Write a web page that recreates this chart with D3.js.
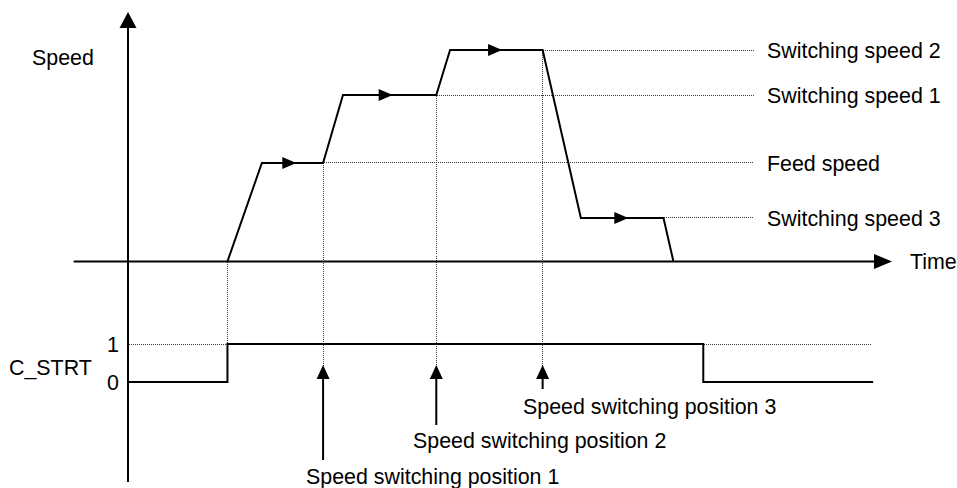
<!DOCTYPE html>
<html>
<head>
<meta charset="utf-8">
<script src="https://cdn.jsdelivr.net/npm/d3@7"></script>
<style>
  html, body { margin: 0; padding: 0; background: #fff; }
  svg { display: block; }
  text { font-family: "Liberation Sans", Arial, Helvetica, sans-serif; font-size: 21.4px; fill: #000; }
</style>
</head>
<body>
<svg id="chart" width="957" height="488"></svg>
<script>
// Speed profile (time units, % of switching speed 2)
const profileTime  = [13.0, 17.5, 25.5, 28.1, 40.3, 42.1, 54.2, 59.2, 70.0, 71.3];
const profileSpeed = [0,    46.6, 46.6, 78.7, 78.7, 100,  100,  20.6, 20.6, 0];

// Named speed levels shown at the right
const levelNames  = ["Switching speed 2", "Switching speed 1", "Feed speed", "Switching speed 3"];
const levelSpeeds = [100, 78.7, 46.6, 20.6];
const levelStarts = [54.2, 40.3, 25.5, 70.0];   // time where each reference line begins

// Direction arrows along the constant-speed segments (tip time, speed)
const flowTime  = [22.0, 34.6, 48.9, 65.4];
const flowSpeed = [46.6, 78.7, 100, 20.6];

// C_STRT signal
const strtTime  = [0, 13.0, 13.0, 75.2, 75.2, 97.4];
const strtLevel = [0, 0,    1,    1,    0,    0];
const strtTicks = ["0", "1"];

// Speed switching positions
const switchNames = ["Speed switching position 1", "Speed switching position 2", "Speed switching position 3"];
const switchTimes = [25.5, 40.3, 54.2];
const switchFrom  = [46.6, 78.7, 100];

const svg = d3.select("#chart");

const x = d3.scaleLinear().domain([0, 100]).range([128, 893]);
const ySpeed = d3.scaleLinear().domain([0, 100]).range([261.5, 50]);
const ySig = d3.scaleLinear().domain([0, 1]).range([382, 344]);

const refEnd = 81.7;     // right end of speed reference lines
const sigRefEnd = 97.1;  // right end of the C_STRT "1" reference line

// thin dotted guide, snapped to the pixel grid so it stays crisp
const crisp = v => Math.round(v - 0.5) + 0.5;
function guide(g, x1, y1, x2, y2) {
  return g.append("line")
    .attr("x1", crisp(x1)).attr("y1", crisp(y1)).attr("x2", crisp(x2)).attr("y2", crisp(y2))
    .attr("stroke", "#3a3a3a").attr("stroke-width", 1)
    .attr("stroke-dasharray", "1,1")
    .attr("shape-rendering", "crispEdges");
}
function line(g, x1, y1, x2, y2, w) {
  return g.append("line")
    .attr("x1", x1).attr("y1", y1).attr("x2", x2).attr("y2", y2)
    .attr("stroke", "#000").attr("stroke-width", w);
}

// --- reference (dotted) lines ---
const refs = svg.append("g");
levelSpeeds.forEach((s, i) => guide(refs, x(levelStarts[i]), ySpeed(s), x(refEnd), ySpeed(s)));
// vertical guides from the speed profile down to the signal area
guide(refs, x(13.0), ySpeed(0), x(13.0), ySig(1));
switchTimes.forEach((t, i) => guide(refs, x(t), ySpeed(switchFrom[i]), x(t), 366));
// C_STRT "1" level
guide(refs, x(0), ySig(1), x(13.0), ySig(1));
guide(refs, x(75.2), ySig(1), x(sigRefEnd), ySig(1));

// --- axes ---
const axes = svg.append("g");
line(axes, x(0), 28, x(0), 482, 2);
axes.append("path")
  .attr("d", d3.line()([[x(0) - 8.5, 28], [x(0), 12], [x(0) + 8.5, 28]]) + "Z")
  .attr("fill", "#000");
line(axes, x(-7.1), ySpeed(0), 874, ySpeed(0), 2);
axes.append("path")
  .attr("d", d3.line()([[874, ySpeed(0) - 7.5], [x(100) - 1, ySpeed(0)], [874, ySpeed(0) + 7.5]]) + "Z")
  .attr("fill", "#000");

// --- speed profile ---
const profile = profileTime.map((t, i) => [x(t), ySpeed(profileSpeed[i])]);
svg.append("path")
  .attr("d", d3.line()(profile))
  .attr("fill", "none").attr("stroke", "#000").attr("stroke-width", 2)
  .attr("stroke-linejoin", "miter");

// direction arrowheads
flowTime.forEach((t, i) => {
  const tx = x(t), ty = ySpeed(flowSpeed[i]);
  svg.append("path")
    .attr("d", d3.line()([[tx - 14, ty - 6], [tx, ty], [tx - 14, ty + 6]]) + "Z")
    .attr("fill", "#000");
});

// --- C_STRT signal ---
const sig = strtTime.map((t, i) => [x(t), ySig(strtLevel[i])]);
svg.append("path")
  .attr("d", d3.line()(sig))
  .attr("fill", "none").attr("stroke", "#000").attr("stroke-width", 2);

// --- switching position arrows ---
const labelBaselines = [484, 448, 414];
const tailEnds = [460, 425, 389];
switchTimes.forEach((t, i) => {
  const sx = x(t);
  line(svg, sx, 377, sx, tailEnds[i], 2);
  svg.append("path")
    .attr("d", d3.line()([[sx - 6.5, 379], [sx, 365], [sx + 6.5, 379]]) + "Z")
    .attr("fill", "#000");
});

// --- text ---
const texts = svg.append("g");
texts.append("text").attr("x", 32).attr("y", 65).text("Speed");
texts.append("text").attr("x", 910).attr("y", ySpeed(0) + 7.6).text("Time");
levelNames.forEach((n, i) => {
  texts.append("text").attr("x", 767).attr("y", ySpeed(levelSpeeds[i]) + 7.6).text(n);
});
texts.append("text").attr("x", 9).attr("y", 374.6).text("C_STRT");
strtTicks.forEach((tk, i) => {
  texts.append("text").attr("x", 107).attr("y", ySig(+tk) + 8.2).text(tk);
});
const labelStarts = [306, 413, 523];
switchNames.forEach((n, i) => {
  texts.append("text").attr("x", labelStarts[i]).attr("y", labelBaselines[i]).text(n);
});
</script>
</body>
</html>
